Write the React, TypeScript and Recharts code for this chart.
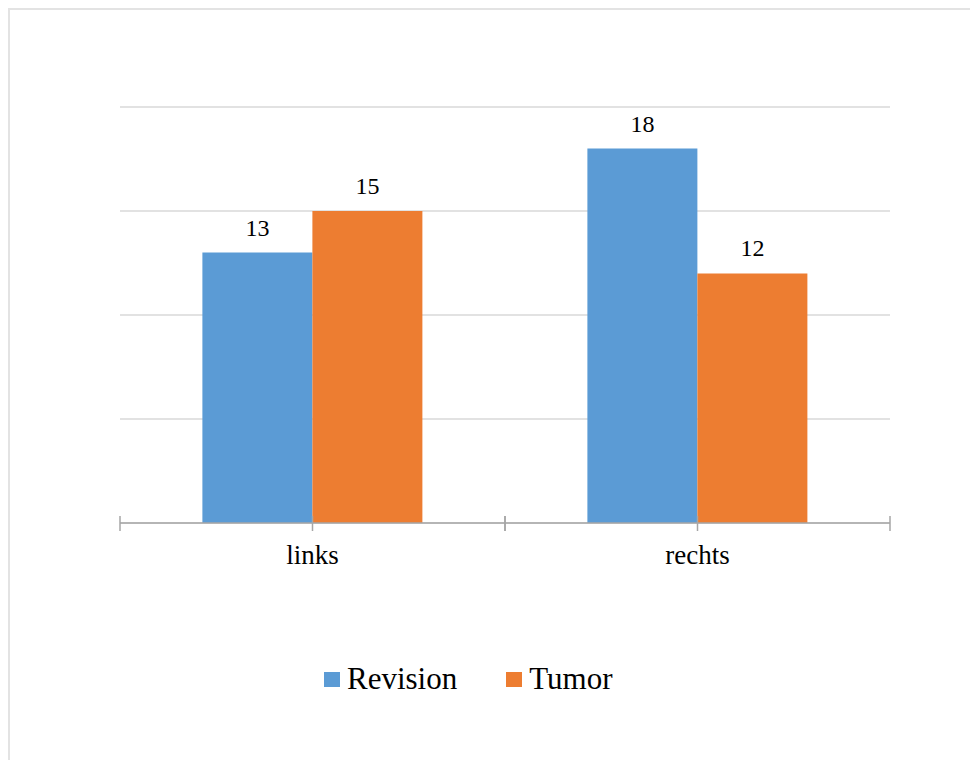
import React from 'react';
import { BarChart, Bar, XAxis, YAxis, CartesianGrid, LabelList, Legend } from 'recharts';

const categories = ['links', 'rechts'];
const revision = [13, 18];
const tumor = [15, 12];
const yTicks = [0, 5, 10, 15, 20];
const seriesNames = ['Revision', 'Tumor'];
const seriesColors = ['#5B9BD5', '#ED7D31'];

const data = categories.map((c, i) => ({ name: c, Revision: revision[i], Tumor: tumor[i] }));

const FONT = 'Liberation Serif, Times New Roman, DejaVu Serif, serif';
const CHART_W = 960;
const CHART_H = 742;
const MARGIN = { top: 97, right: 80, bottom: 179, left: 110 };
const PLOT_W = CHART_W - MARGIN.left - MARGIN.right;
const HALF_BAND = PLOT_W / (2 * categories.length);

const AxisTick = (props: any) => {
  const { x, y, payload } = props;
  const lineColor = '#a6a6a6';
  return (
    <g>
      {[x - HALF_BAND, x, x + HALF_BAND].map((lx, i) => (
        <line key={i} x1={lx} x2={lx} y1={y - 7} y2={y + 8} stroke={lineColor} strokeWidth={1.5} />
      ))}
      <text x={x} y={y + 41} textAnchor="middle" fontSize={27} style={{ fontFamily: FONT }} fill="#000">
        {payload.value}
      </text>
    </g>
  );
};

const LegendContent = () => (
  <div style={{ display: 'flex', alignItems: 'center', height: 40, fontFamily: FONT, fontSize: 31, lineHeight: '40px', color: '#000', whiteSpace: 'nowrap' }}>
    {seriesNames.map((n, i) => (
      <div key={n} style={{ display: 'flex', alignItems: 'center', marginRight: i === 0 ? 49 : 0 }}>
        <span style={{ display: 'inline-block', width: 16, height: 15, background: seriesColors[i], marginRight: 7 }} />
        <span>{n}</span>
      </div>
    ))}
  </div>
);

export default function App() {
  return (
    <div style={{ width: 990, height: 750, borderTop: '2px solid #e3e3e3', borderLeft: '2px solid #e3e3e3', background: '#fff', position: 'relative', fontFamily: FONT }}>
      <style>{`html,body{overflow:hidden;}`}</style>
      <BarChart width={CHART_W} height={CHART_H} data={data} margin={MARGIN} barCategoryGap="21.4%" barGap={0} style={{ fontFamily: FONT }}>
        <CartesianGrid horizontal={true} vertical={false} stroke="#d9d9d9" strokeWidth={1.5} />
        <YAxis hide domain={[0, 20]} ticks={yTicks} />
        <XAxis
          dataKey="name"
          height={50}
          tickSize={0}
          tickMargin={0}
          tickLine={false}
          axisLine={{ stroke: '#a6a6a6', strokeWidth: 1.5 }}
          tick={<AxisTick />}
          interval={0}
        />
        <Legend
          verticalAlign="middle"
          align="center"
          content={<LegendContent />}
          wrapperStyle={{ position: 'absolute', top: 649, left: 314, width: 'auto', height: 40 }}
        />
        {seriesNames.map((n, i) => (
          <Bar key={n} dataKey={n} fill={seriesColors[i]} isAnimationActive={false}>
            <LabelList dataKey={n} position="top" offset={17} fill="#000" fontSize={24} style={{ fontFamily: FONT }} />
          </Bar>
        ))}
      </BarChart>
    </div>
  );
}
